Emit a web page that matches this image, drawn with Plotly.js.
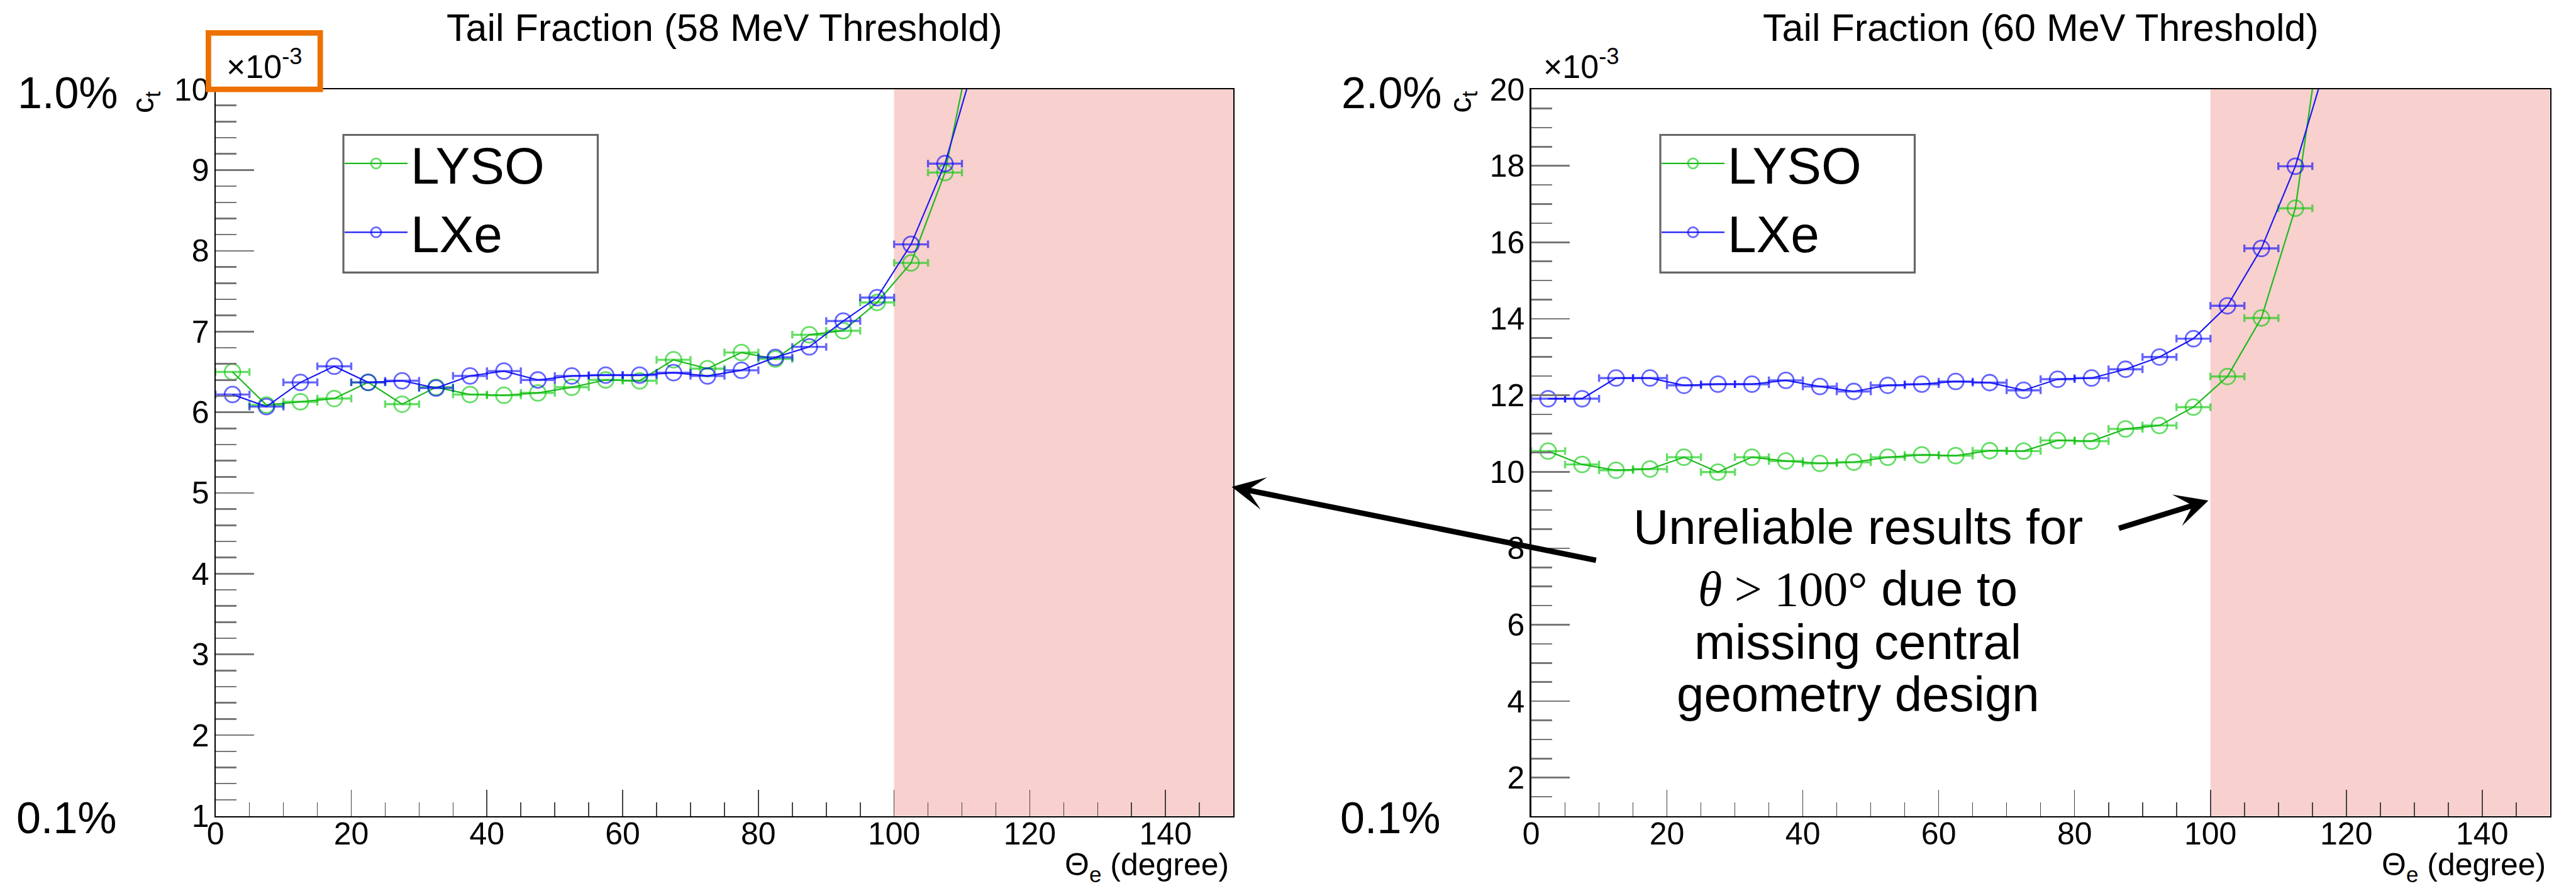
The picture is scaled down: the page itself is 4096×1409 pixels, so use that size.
<!DOCTYPE html>
<html>
<head>
<meta charset="utf-8">
<script src="https://cdn.plot.ly/plotly-3.0.1.min.js"></script>
<style>
html,body{margin:0;padding:0;background:#fff;overflow:hidden}
#chart{width:4096px;height:1409px}
</style>
</head>
<body>
<div id="chart"></div>
<script>
// ---------------- data (values in units of 10^-3) ----------------
const theta = [2.5, 7.5, 12.5, 17.5, 22.5, 27.5, 32.5, 37.5, 42.5, 47.5, 52.5, 57.5,
               62.5, 67.5, 72.5, 77.5, 82.5, 87.5, 92.5, 97.5, 102.5, 107.5, 112.5, 117.5];
const seriesNames = ['LYSO', 'LXe'];
const lyso58 = [6.50, 6.09, 6.13, 6.17, 6.37, 6.10, 6.31, 6.22, 6.21, 6.24, 6.31, 6.40,
                6.39, 6.65, 6.54, 6.74, 6.66, 6.96, 7.01, 7.36, 7.85, 8.97, 11.03];
const lxe58  = [6.22, 6.07, 6.37, 6.57, 6.37, 6.39, 6.30, 6.45, 6.51, 6.40, 6.45, 6.46,
                6.46, 6.49, 6.45, 6.52, 6.68, 6.81, 7.13, 7.42, 8.08, 9.08, 10.52];
const lyso60 = [10.54, 10.19, 10.04, 10.07, 10.38, 9.99, 10.38, 10.28, 10.22, 10.25, 10.38, 10.44,
                10.42, 10.55, 10.54, 10.82, 10.80, 11.12, 11.21, 11.69, 12.49, 14.02, 16.89, 23.1];
const lxe60  = [11.91, 11.91, 12.45, 12.45, 12.26, 12.29, 12.29, 12.39, 12.23, 12.10, 12.26, 12.29,
                12.36, 12.33, 12.13, 12.42, 12.45, 12.68, 13.00, 13.48, 14.34, 15.84, 17.99, 20.95];
const binHalfWidth = 2.5;
const panelTitles = ['Tail Fraction (58 MeV Threshold)', 'Tail Fraction (60 MeV Threshold)'];
const xRange = [0, 150];
const yRanges = [[1, 10], [1, 20]];
const yMajorStep = [1, 2];
const yMinorStep = [0.2, 0.5];
const xMajorStep = 20;
const xMinorStep = 5;
const unreliableRange = [100, 150];
const percentTop = ['1.0%', '2.0%'];
const percentBottom = ['0.1%', '0.1%'];
const yTitle = 'c<sub>t</sub>';
const xTitle = 'Θ<sub>e</sub> (degree)';
const multiplier = '×10<sup>-3</sup>';
const noteLines = ['Unreliable results for',
                   '<span style="font-family:\'Liberation Serif\',serif"><i>θ</i> &gt; 100°</span> due to',
                   'missing central', 'geometry design'];

// ---------------- styling ----------------
const FONT = 'Liberation Sans, Arial, Helvetica, sans-serif';
const W = 4096, H = 1409;
const xDom = [[0.08367, 0.47879], [0.59438, 0.98994]];
const yDom = [0.07913, 0.89915];
const GREEN_LINE = 'rgb(30,185,30)', GREEN_MARK = 'rgba(0,200,0,0.6)';
const BLUE_LINE = 'rgb(25,25,245)', BLUE_MARK = 'rgba(0,0,255,0.6)';

function series(y, name, idx, legendId, lineColor, markColor) {
  const sfx = idx === 0 ? '' : '2';
  return {
    type: 'scatter', mode: 'lines+markers',
    x: theta.slice(0, y.length), y: y, name: name,
    xaxis: 'x' + sfx, yaxis: 'y' + sfx, legend: legendId,
    line: {color: lineColor, width: 2.2},
    marker: {symbol: 'circle-open', size: 25, color: markColor, line: {width: 2.8, color: markColor}},
    error_x: {type: 'constant', value: binHalfWidth, width: 6, thickness: 3.4, color: markColor},
    cliponaxis: true
  };
}

const data = [
  series(lyso58, seriesNames[0], 0, 'legend', GREEN_LINE, GREEN_MARK),
  series(lxe58, seriesNames[1], 0, 'legend', BLUE_LINE, BLUE_MARK),
  series(lyso60, seriesNames[0], 1, 'legend2', GREEN_LINE, GREEN_MARK),
  series(lxe60, seriesNames[1], 1, 'legend2', BLUE_LINE, BLUE_MARK)
];

function xAxis(i) {
  return {
    domain: xDom[i], range: xRange, anchor: i === 0 ? 'y' : 'y2',
    showgrid: false, zeroline: false, showline: true, linecolor: '#000', linewidth: 2.2, mirror: true,
    ticks: 'inside', tick0: 0, dtick: xMajorStep, ticklen: 42, tickwidth: 1.6, tickcolor: '#444',
    minor: {ticks: 'inside', dtick: xMinorStep, ticklen: 22, tickwidth: 1.6, tickcolor: '#444'},
    tickfont: {family: FONT, size: 50, color: '#000'}, ticklabelstandoff: -17
  };
}
function yAxis(i) {
  return {
    domain: yDom, range: yRanges[i], anchor: i === 0 ? 'x' : 'x2',
    showgrid: false, zeroline: false, showline: true, linecolor: '#000', linewidth: 2.2, mirror: true,
    ticks: 'inside', tick0: 0, dtick: yMajorStep[i], ticklen: 61, tickwidth: 2.6, tickcolor: '#777',
    minor: {ticks: 'inside', dtick: yMinorStep[i], ticklen: 33, tickwidth: 2.6, tickcolor: '#777'},
    tickfont: {family: FONT, size: 50, color: '#000'}, ticklabelstandoff: -2
  };
}

const px = v => v / W;
const py = v => 1 - v / H;

const shapes = [];
const annotations = [];
[0, 1].forEach(i => {
  const sfx = i === 0 ? '' : '2';
  shapes.push({type: 'rect', xref: 'x' + sfx, yref: 'y' + sfx + ' domain',
    x0: unreliableRange[0], x1: unreliableRange[1], y0: 0, y1: 1,
    fillcolor: '#F8D0CD', line: {width: 0}, layer: 'below'});
  const lx = i === 0 ? 546 : 2640;
  shapes.push({type: 'rect', xref: 'paper', yref: 'paper',
    x0: px(lx), x1: px(lx + 404.5), y0: py(433.4), y1: py(214.5),
    fillcolor: '#fff', line: {color: '#666', width: 3.2}, layer: 'below'});
  const xc = (xDom[i][0] + xDom[i][1]) / 2;
  annotations.push({xref: 'paper', yref: 'paper', x: xc, y: py(44.5), text: panelTitles[i],
    showarrow: false, xanchor: 'center', yanchor: 'middle', font: {family: FONT, size: 61, color: '#000'}});
  const off = i === 0 ? 0 : 2104.5;
  annotations.push({xref: 'paper', yref: 'paper', x: px(26 + off), y: py(148), text: percentTop[i],
    showarrow: false, xanchor: 'left', yanchor: 'middle', font: {family: FONT, size: 70, color: '#000'}});
  annotations.push({xref: 'paper', yref: 'paper', x: px(24 + off), y: py(1301), text: percentBottom[i],
    showarrow: false, xanchor: 'left', yanchor: 'middle', font: {family: FONT, size: 70, color: '#000'}});
  annotations.push({xref: 'paper', yref: 'paper', x: px((i === 0 ? 230.6 : 2325)), y: py(143), text: yTitle,
    showarrow: false, xanchor: 'center', yanchor: 'top', textangle: -90, font: {family: FONT, size: 50, color: '#000'}});
  annotations.push({xref: 'paper', yref: 'paper', x: px(i === 0 ? 358 : 2452), y: py(137), text: multiplier,
    showarrow: false, xanchor: 'left', yanchor: 'bottom', font: {family: FONT, size: 52, color: '#000'}});
  annotations.push({xref: 'paper', yref: 'paper', x: xDom[i][1] - px(5), y: py(1378), text: xTitle,
    showarrow: false, xanchor: 'right', yanchor: 'middle', font: {family: FONT, size: 50, color: '#000'}});
});
// orange highlight box around the first multiplier
shapes.push({type: 'rect', xref: 'paper', yref: 'paper', x0: px(331.4), x1: px(509.2), y0: py(142.1), y1: py(52.3),
  line: {color: '#ED7000', width: 8.7}, fillcolor: 'rgba(0,0,0,0)', layer: 'above'});

// note text
const noteY = [837.6, 936.0, 1021.4, 1104.2];
noteLines.forEach((t, k) => {
  annotations.push({xref: 'paper', yref: 'paper', x: px(2954), y: py(noteY[k]), text: t,
    showarrow: false, xanchor: 'center', yanchor: 'middle', font: {family: FONT, size: 78, color: '#000'}});
});
// arrows
annotations.push({xref: 'paper', yref: 'paper', x: px(1958.5), y: py(774.3), ax: 580.8, ay: 116.9, text: '',
  showarrow: true, arrowhead: 3, arrowsize: 1, arrowwidth: 8.7, arrowcolor: '#000', standoff: 0, startstandoff: 0});
annotations.push({xref: 'paper', yref: 'paper', x: px(3511.5), y: py(796.1), ax: -143.8, ay: 44.5, text: '',
  showarrow: true, arrowhead: 3, arrowsize: 1, arrowwidth: 8.7, arrowcolor: '#000', standoff: 0, startstandoff: 0});

const legendCommon = {xanchor: 'left', yanchor: 'top', bgcolor: 'rgba(0,0,0,0)', borderwidth: 0,
  font: {family: FONT, size: 82, color: '#000'}, tracegroupgap: 0, itemwidth: 100};

const layout = {
  width: W, height: H, margin: {l: 0, r: 0, t: 0, b: 0, pad: 0},
  paper_bgcolor: '#fff', plot_bgcolor: 'rgba(0,0,0,0)',
  font: {family: FONT, color: '#000'},
  showlegend: true,
  xaxis: xAxis(0), yaxis: yAxis(0), xaxis2: xAxis(1), yaxis2: yAxis(1),
  legend: Object.assign({x: px(543), y: py(200)}, legendCommon),
  legend2: Object.assign({x: px(2637), y: py(200)}, legendCommon),
  shapes: shapes, annotations: annotations
};

Plotly.newPlot('chart', data, layout, {displayModeBar: false, staticPlot: true});
</script>
</body>
</html>
